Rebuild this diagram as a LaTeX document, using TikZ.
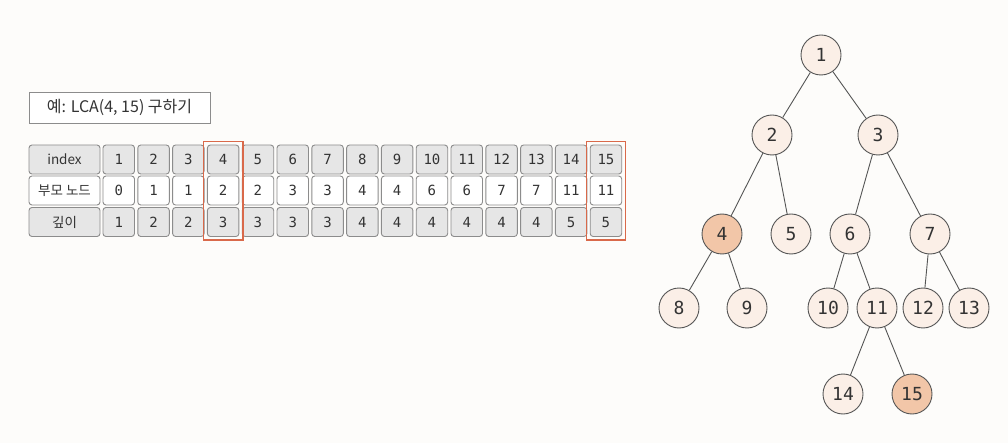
\documentclass[tikz,border=0pt]{standalone}
\usepackage{fontspec}
\usetikzlibrary{fit}
\setmainfont{Noto Sans CJK KR}
\setmonofont{DejaVu Sans Mono}
\newfontfamily\kr{Noto Sans CJK KR}
\definecolor{bgc}{HTML}{FDFCFA}
\definecolor{cellgray}{HTML}{E6E6E6}
\definecolor{cellline}{HTML}{8C8C8C}
\definecolor{hilite}{HTML}{D9694A}
\definecolor{nodefill}{HTML}{FBEFE7}
\definecolor{nodehi}{HTML}{F2C6A8}
\definecolor{nodeline}{HTML}{555555}
\definecolor{txt}{HTML}{333333}
\tikzset{
  cellbox/.style={draw=cellline, line width=0.9pt, rounded corners=3pt, minimum width=31.5pt, minimum height=29pt, inner sep=0pt, text=txt, font=\ttfamily\fontsize{14}{14}\selectfont},
  graycell/.style={cellbox, fill=cellgray},
  whitecell/.style={cellbox, fill=white},
  headcell/.style={minimum width=71pt, font=\kr\fontsize{13.5}{14}\selectfont},
  hibox/.style={draw=hilite, line width=1.3pt, inner xsep=3.5pt, inner ysep=3pt},
  treenode/.style={circle, draw=nodeline, line width=0.9pt, fill=nodefill, minimum size=40pt, inner sep=0pt, text=txt, font=\ttfamily\fontsize{18}{18}\selectfont},
  hinode/.style={treenode, fill=nodehi},
  edge/.style={draw=nodeline, line width=0.9pt},
}
\begin{document}
\begin{tikzpicture}[x=1pt, y=-1pt]
\fill[bgc] (0,0) rectangle (1008,443);
\useasboundingbox (0,0) rectangle (1008,443);
% title box
\node[draw=cellline, line width=0.9pt, fill=white, minimum width=181pt, minimum height=31pt, inner sep=0pt, text=txt, font=\kr\fontsize{16}{16}\selectfont] (title) at (119.5,107.5) {예: LCA(4, 15) 구하기};
% header cells
\node[graycell, headcell] (h1) at (64.5,159.5) {index};
\node[whitecell, headcell] (h2) at (64.5,190.5) {부모 노드};
\node[graycell, headcell] (h3) at (64.5,222) {깊이};
% table cells
\foreach \i/\p/\d in {1/0/1,2/1/2,3/1/2,4/2/3,5/2/3,6/3/3,7/3/3,8/4/4,9/4/4,10/6/4,11/6/4,12/7/4,13/7/4,14/11/5,15/11/5}{
  \pgfmathsetmacro{\cx}{118.75+(\i-1)*34.8}
  \node[graycell] (a\i) at (\cx,159.5) {\i};
  \node[whitecell] (b\i) at (\cx,190.5) {\p};
  \node[graycell] (d\i) at (\cx,222) {\d};
}
% highlight boxes
\node[hibox, fit=(a4)(d4)] (hlfour) {};
\node[hibox, fit=(a15)(d15)] (hlfifteen) {};
% tree
\node[treenode] (n1) at (821,55) {1};
\node[treenode] (n2) at (772,135) {2};
\node[treenode] (n3) at (878,135) {3};
\node[hinode] (n4) at (722,234) {4};
\node[treenode] (n5) at (791,234) {5};
\node[treenode] (n6) at (850,234) {6};
\node[treenode] (n7) at (930,234) {7};
\node[treenode] (n8) at (679,308) {8};
\node[treenode] (n9) at (747,308) {9};
\node[treenode] (n10) at (828,308) {10};
\node[treenode] (n11) at (877,308) {11};
\node[treenode] (n12) at (923,308) {12};
\node[treenode] (n13) at (969,308) {13};
\node[treenode] (n14) at (843,394) {14};
\node[hinode] (n15) at (912,394) {15};
\foreach \a/\b in {n1/n2,n1/n3,n2/n4,n2/n5,n3/n6,n3/n7,n4/n8,n4/n9,n6/n10,n6/n11,n7/n12,n7/n13,n11/n14,n11/n15}{
  \draw[edge] (\a) -- (\b);
}
\end{tikzpicture}
\end{document}
